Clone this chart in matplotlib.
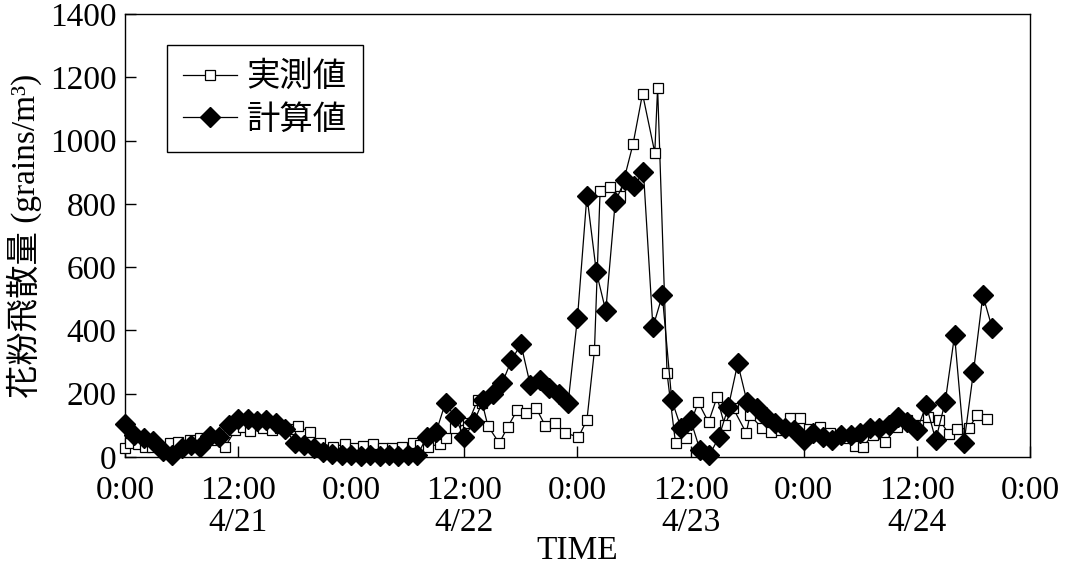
import matplotlib
matplotlib.use("Agg")
from matplotlib import pyplot as plt

plt.rcParams['font.family'] = ['Liberation Serif', 'Noto Sans CJK JP', 'DejaVu Sans']

# observed (実測値): time in hours from 4/21 0:00, grains/m3
obs_t = [0.0, 0.5, 1.4, 2.1, 2.9, 3.7, 4.8, 5.6, 6.9, 8.0, 9.2, 10.6, 11.7, 12.5,
         13.3, 14.6, 15.6, 16.4, 17.5, 18.3, 19.6, 20.7, 22.1, 23.3, 24.4, 25.3,
         26.3, 27.4, 28.3, 29.4, 30.5, 31.3, 32.1, 33.4, 34.1, 35.0, 36.4, 37.4,
         37.9, 38.5, 39.7, 40.6, 41.6, 42.5, 43.6, 44.6, 45.6, 46.7, 48.1, 49.0,
         49.8, 50.4, 51.4, 52.5, 53.9, 54.9, 56.2, 56.5, 57.5, 58.4, 59.5, 60.8,
         61.9, 62.8, 63.6, 64.5, 65.9, 66.3, 67.6, 68.5, 69.6, 70.5, 71.6, 72.6,
         73.7, 74.8, 75.8, 76.7, 77.4, 78.3, 79.3, 80.6, 81.9, 83.0, 84.1, 85.2,
         86.4, 87.4, 88.3, 89.5, 90.4, 91.4]
obs_v = [30, 45, 40, 32, 32, 30, 44, 47, 54, 60, 54, 32, 85, 95,
         82, 91, 85, 91, 90, 98, 79, 44, 32, 41, 28, 35,
         41, 28, 30, 32, 44, 38, 32, 41, 60, 91, 107, 180,
         170, 98, 44, 95, 148, 139, 155, 98, 107, 76, 63, 117,
         337, 842, 852, 826, 990, 1148, 962, 1167, 265, 44, 60, 174,
         110, 189, 101, 155, 76, 132, 91, 79, 85, 123, 123, 90,
         95, 75, 70, 60, 35, 32, 70, 47, 95, 117, 100, 126,
         117, 73, 88, 91, 132, 120]

# computed (計算値): hourly from 4/21 0:00
calc_v = [105, 70, 60, 52, 18, 5, 30, 38, 32, 65, 63, 100, 120, 120, 115, 118,
          108, 90, 45, 38, 28, 16, 10, 6, 5, 4, 5, 4, 5, 4, 5, 5,
          63, 79, 172, 126, 63, 110, 180, 199, 233, 306, 357, 227, 243, 218,
          199, 170, 440, 826, 585, 462, 805, 875, 858, 900, 410, 511, 180, 91,
          117, 22, 6, 63, 158, 296, 173, 155, 126, 107, 91, 85, 54, 76, 63,
          54, 69, 69, 76, 91, 91, 101, 126, 110, 85, 164, 54, 173, 385, 44,
          268, 511, 407]
calc_t = list(range(len(calc_v)))

tick_hours = [0, 12, 24, 36, 48, 60, 72, 84, 96]
tick_labels = ['0:00', '12:00\n4/21', '0:00', '12:00\n4/22', '0:00',
               '12:00\n4/23', '0:00', '12:00\n4/24', '0:00']

fig = plt.figure(figsize=(10.72, 5.70), dpi=100)
ax = fig.add_axes([0.1166, 0.1982, 0.8442, 0.7772])

ax.plot(obs_t, obs_v, color='black', linewidth=0.9, marker='s', markersize=7.5,
        markerfacecolor='white', markeredgecolor='black', markeredgewidth=0.9,
        label='実測値', clip_on=False, zorder=3)
ax.plot(calc_t, calc_v, color='black', linewidth=0.9, marker='D', markersize=10,
        markerfacecolor='black', markeredgecolor='black',
        label='計算値', clip_on=False, zorder=4)

ax.set_xlim(0, 96)
ax.set_ylim(0, 1400)
ax.set_xticks(tick_hours)
ax.set_xticklabels(tick_labels, linespacing=1.1)
ax.set_yticks(range(0, 1401, 200))
ax.tick_params(direction='in', length=8, width=1, labelsize=24)
ax.tick_params(axis='x', pad=13)
ax.tick_params(axis='y', pad=6)
for s in ax.spines.values():
    s.set_linewidth(1)

ax.set_xlabel('TIME', fontsize=24, labelpad=-2)
ax.set_ylabel('花粉飛散量 (grains/m³)', fontsize=24, labelpad=6)

leg = ax.legend(loc='upper left', bbox_to_anchor=(0.046, 0.93), borderaxespad=0,
                fontsize=24, fancybox=False, edgecolor='black', framealpha=1,
                handlelength=1.6, handletextpad=0.3, borderpad=0.5,
                labelspacing=0.35)
leg.get_frame().set_linewidth(1)

plt.savefig('out.png', dpi=100)
